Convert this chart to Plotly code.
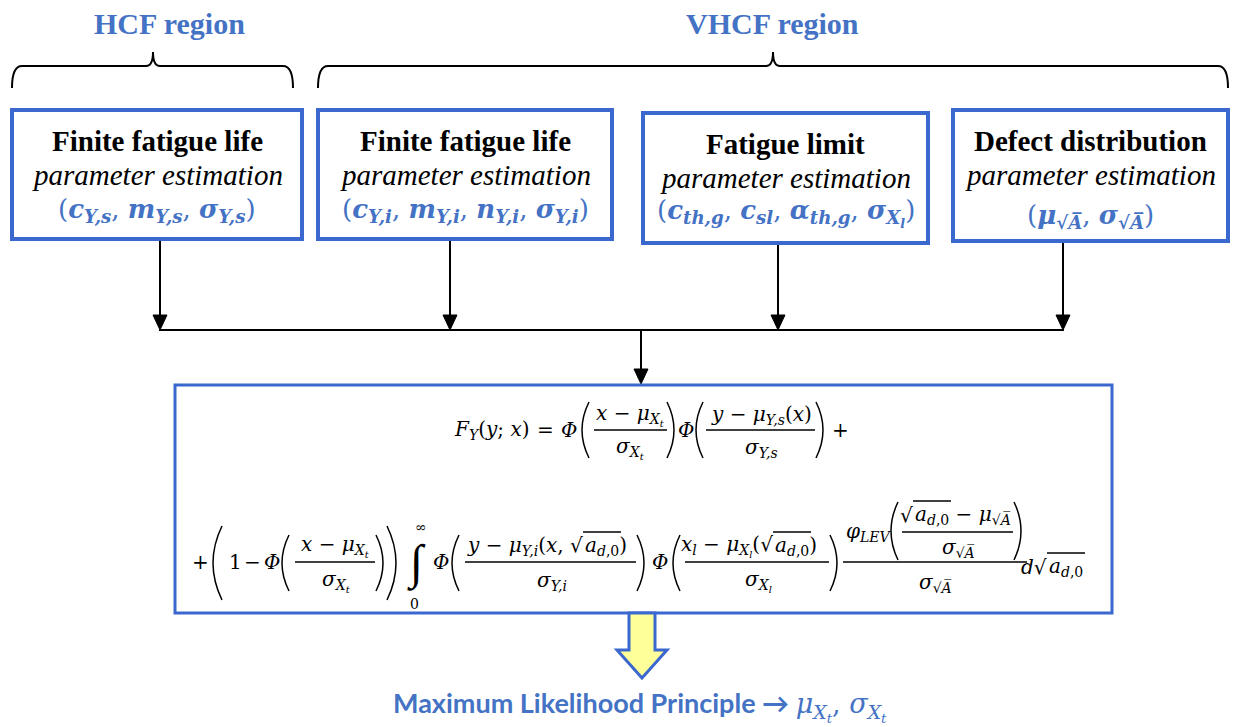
import plotly.graph_objects as go

W, H = 1233, 727
BLUE_LINE = "#3B68CF"
BLUE_TEXT = "#4472C4"
SERIF = "Liberation Serif, Times New Roman, serif"
MATH = "DejaVu Serif"
SANS = "Lato"


def bi(s):
    return f"<b><i>{s}</i></b>"


# ---- diagram content -------------------------------------------------
region_labels = ["HCF region", "VHCF region"]
region_label_x = [169, 772]
brace_x0 = [12, 318]
brace_x1 = [293, 1228]
brace_tip = [153, 773]

box_titles = ["Finite fatigue life", "Finite fatigue life", "Fatigue limit", "Defect distribution"]
box_subtitles = ["parameter estimation"] * 4
box_params = [
    f"({bi('c')}<sub>{bi('Y,s')}</sub>, {bi('m')}<sub>{bi('Y,s')}</sub>, {bi('σ')}<sub>{bi('Y,s')}</sub>)",
    f"({bi('c')}<sub>{bi('Y,i')}</sub>, {bi('m')}<sub>{bi('Y,i')}</sub>, {bi('n')}<sub>{bi('Y,i')}</sub>, "
    f"{bi('σ')}<sub>{bi('Y,i')}</sub>)",
    f"({bi('c')}<sub>{bi('th,g')}</sub>, {bi('c')}<sub>{bi('sl')}</sub>, {bi('α')}<sub>{bi('th,g')}</sub>, "
    f"{bi('σ')}<sub>{bi('X<sub>l</sub>')}</sub>)",
    f"({bi('μ')}<sub>{bi('√A&#773;')}</sub>, {bi('σ')}<sub>{bi('√A&#773;')}</sub>)",
]
box_x0 = [12, 318, 643, 953]
box_x1 = [302, 612, 928, 1228]
box_y0 = [110, 110, 113, 110]
box_y1 = [239, 239, 243, 241]
param_dy = [100, 100, 100, 106]
arrow_x = [160, 450, 778, 1063]

result_text = ("Maximum Likelihood Principle → "
               "<span style='font-family:DejaVu Serif;font-weight:normal'>"
               "<i>μ</i><sub><i>X<sub>t</sub></i></sub>, <i>σ</i><sub><i>X<sub>t</sub></i></sub></span>")

fig = go.Figure(go.Scatter(x=[], y=[]))

FS = 20


def T(x, y, text, size=FS, color="black", family=MATH, xanchor="center",
      yanchor="middle", weight="normal", style="normal"):
    fig.add_annotation(x=x, y=y, xref="x", yref="y", text=text, showarrow=False,
                       xanchor=xanchor, yanchor=yanchor, borderpad=0,
                       font=dict(family=family, size=size, color=color,
                                 weight=weight, style=style))


def line(x0, y0, x1, y1, w=1.3, color="black"):
    fig.add_shape(type="line", x0=x0, y0=y0, x1=x1, y1=y1, xref="x", yref="y",
                  line=dict(color=color, width=w))


def path(p, w=1.5, color="black", fill=None):
    fig.add_shape(type="path", path=p, xref="x", yref="y",
                  line=dict(color=color, width=w),
                  fillcolor=fill if fill else "rgba(0,0,0,0)")


def paren(x, y0, y1, side, w=7, lw=1.5):
    ym = (y0 + y1) / 2
    if side == "l":
        path(f"M {x + w},{y0} Q {x - w},{ym} {x + w},{y1}", w=lw)
    else:
        path(f"M {x},{y0} Q {x + 2 * w},{ym} {x},{y1}", w=lw)


# ---- region labels and braces ----------------------------------------
for lab, lx, x0, x1, xt in zip(region_labels, region_label_x, brace_x0, brace_x1, brace_tip):
    T(lx, 23, lab, size=30, color=BLUE_TEXT, family=SERIF, weight="bold")
    path(f"M {x0},88 Q {x0},66 {x0 + 10},66 L {xt - 7},66 Q {xt},66 {xt},52 "
         f"Q {xt},66 {xt + 7},66 L {x1 - 10},66 Q {x1},66 {x1},88", w=2)

# ---- parameter boxes ---------------------------------------------------
for i in range(4):
    fig.add_shape(type="rect", x0=box_x0[i], x1=box_x1[i], y0=box_y0[i], y1=box_y1[i],
                  xref="x", yref="y", line=dict(color=BLUE_LINE, width=4), fillcolor="white")
    cx = (box_x0[i] + box_x1[i]) / 2
    T(cx, box_y0[i] + 31, box_titles[i], size=29, family=SERIF, weight="bold")
    T(cx, box_y0[i] + 65, box_subtitles[i], size=29, family=SERIF, style="italic")
    T(cx, box_y0[i] + param_dy[i], box_params[i], size=26, color=BLUE_TEXT, family=MATH)
    # arrow down to the collector line
    line(arrow_x[i], box_y1[i] + 2, arrow_x[i], 316, w=2)
    path(f"M {arrow_x[i] - 7},315 L {arrow_x[i] + 7},315 L {arrow_x[i]},330 Z",
         w=1, fill="black")

line(arrow_x[0] - 1, 330, arrow_x[-1] + 1, 330, w=2)
line(641, 330, 641, 371, w=2)
path("M 634,369 L 648,369 L 641,384 Z", w=1, fill="black")

# ---- formula box ---------------------------------------------------------
fig.add_shape(type="rect", x0=175, x1=1112, y0=385, y1=613, xref="x", yref="y",
              line=dict(color=BLUE_LINE, width=3), fillcolor="white")

XT = "<i>X<sub>t</sub></i>"
AD0 = "<i>a</i><sub><i>d</i>,0</sub>"
SQA = "√A&#773;"

# line 1
A1 = 430
T(491, A1, "<i>F</i><sub><i>Y</i></sub>(<i>y</i>; <i>x</i>)")
T(545, A1, "=")
T(569, A1, "<i>Φ</i>")
paren(582, A1 - 28, A1 + 28, "l")
T(630, A1 - 15, f"<i>x</i> − <i>μ</i><sub>{XT}</sub>")
line(594, A1, 667, A1)
T(630, A1 + 18, f"<i>σ</i><sub>{XT}</sub>")
paren(667, A1 - 28, A1 + 28, "r")
T(686, A1, "<i>Φ</i>")
paren(696, A1 - 28, A1 + 28, "l")
T(761, A1 - 15, "<i>y</i> − <i>μ</i><sub><i>Y,s</i></sub>(<i>x</i>)")
line(706, A1, 815, A1)
T(761, A1 + 18, "<i>σ</i><sub><i>Y,s</i></sub>")
paren(816, A1 - 28, A1 + 28, "r")
T(840, A1, "+")

# line 2
A2 = 562
T(200, A2, "+")
paren(213, A2 - 36, A2 + 38, "l", w=9)
T(235, A2, "1")
T(252, A2, "−")
T(272, A2, "<i>Φ</i>")
paren(282, A2 - 27, A2 + 29, "l")
T(335, A2 - 16, f"<i>x</i> − <i>μ</i><sub>{XT}</sub>")
line(295, A2, 375, A2)
T(336, A2 + 19, f"<i>σ</i><sub>{XT}</sub>")
paren(376, A2 - 27, A2 + 29, "r")
paren(387, A2 - 36, A2 + 38, "r", w=9)
T(416, A2 + 1, "∫", size=48, family=SERIF, style="italic")
T(421, A2 - 35, "∞", size=14)
T(414, A2 + 42, "0", size=14)
T(441, A2, "<i>Φ</i>")
paren(452, A2 - 27, A2 + 29, "l")
J1 = 584
T(J1, A2 - 16, "<i>y</i> − <i>μ</i><sub><i>Y,i</i></sub>(<i>x</i>, √", xanchor="right")
T(J1, A2 - 16, AD0 + ")", xanchor="left")
line(J1 - 1, A2 - 30, J1 + 37, A2 - 30, w=1.3)
line(465, A2, 636, A2)
T(552, A2 + 19, "<i>σ</i><sub><i>Y,i</i></sub>")
paren(637, A2 - 27, A2 + 29, "r")
T(660, A2, "<i>Φ</i>")
paren(673, A2 - 27, A2 + 29, "l")
J2 = 774
T(J2, A2 - 16, "<i>x</i><sub><i>l</i></sub> − <i>μ</i><sub><i>X<sub>l</sub></i></sub>(√", xanchor="right")
T(J2, A2 - 16, AD0 + ")", xanchor="left")
line(J2 - 1, A2 - 30, J2 + 37, A2 - 30, w=1.3)
line(685, A2, 829, A2)
T(758, A2 + 19, "<i>σ</i><sub><i>X<sub>l</sub></i></sub>")
paren(830, A2 - 27, A2 + 29, "r")
T(869, A2 - 30, "<i>φ</i><sub><i>LEV</i></sub>")
paren(891, A2 - 60, A2 - 2, "l")
J3 = 914
T(J3, A2 - 47, "√", xanchor="right")
T(J3, A2 - 47, AD0 + f" − <i>μ</i><sub><i>{SQA}</i></sub>", xanchor="left")
line(J3 - 1, A2 - 61, J3 + 37, A2 - 61, w=1.3)
line(902, A2 - 30, 1013, A2 - 30)
T(958, A2 - 14, f"<i>σ</i><sub><i>{SQA}</i></sub>")
paren(1014, A2 - 60, A2 - 2, "r")
line(843, A2, 1027, A2)
T(935, A2 + 21, f"<i>σ</i><sub><i>{SQA}</i></sub>")
J4 = 1048
T(J4, A2 + 5, "<i>d</i>√", xanchor="right")
T(J4, A2 + 5, AD0, xanchor="left")
line(J4 - 1, A2 - 9, J4 + 37, A2 - 9, w=1.3)

# ---- hollow output arrow and result -------------------------------------
path("M 629,613 L 655,613 L 655,650 L 667,650 L 642,678 L 617,650 L 629,650 Z",
     w=3, color=BLUE_LINE, fill="#FFFF99")
T(640, 706, result_text, size=27, color=BLUE_TEXT, family=SANS, weight="bold")

fig.update_layout(
    width=W, height=H, margin=dict(l=0, r=0, t=0, b=0),
    paper_bgcolor="white", plot_bgcolor="white", showlegend=False,
    xaxis=dict(range=[0, W], visible=False, fixedrange=True),
    yaxis=dict(range=[H, 0], visible=False, fixedrange=True),
)
fig.write_html("out.html", config={"displayModeBar": False},
               post_script="document.body.style.margin='0px';")
